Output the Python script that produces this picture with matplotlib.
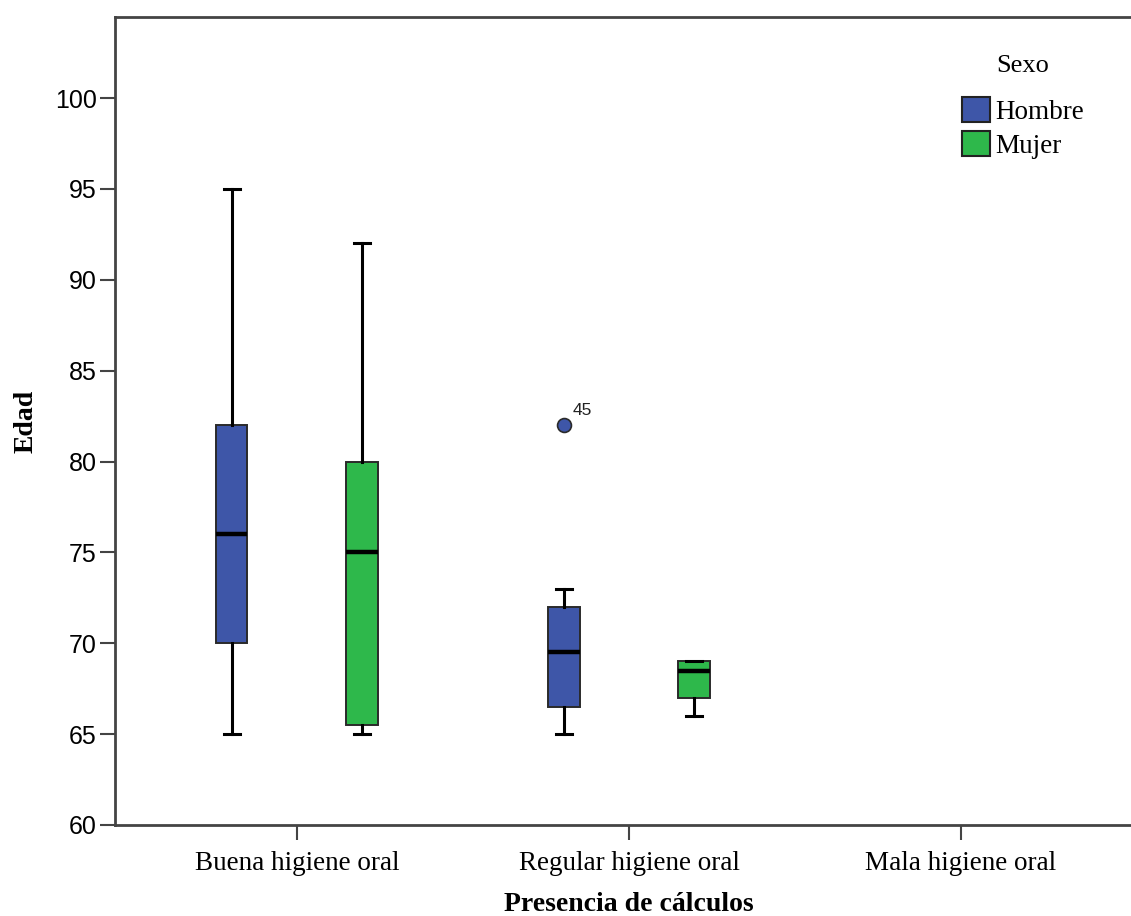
import matplotlib
matplotlib.use("Agg")
import matplotlib.pyplot as plt
from matplotlib.patches import Patch

categories = ["Buena higiene oral", "Regular higiene oral", "Mala higiene oral"]
groups = ["Hombre", "Mujer"]
colors = {"Hombre": "#3E56A8", "Mujer": "#2EB84B"}

# stats per (category, group): whislo, q1, med, q3, whishi
hombre_stats = [[65, 70, 76, 82, 95], [65, 66.5, 69.5, 72, 73]]
mujer_stats = [[65, 65.5, 75, 80, 92], [66, 67, 68.5, 69, 69]]
hombre_outliers = [[], [82]]
hombre_outlier_ids = [[], ["45"]]
mujer_outliers = [[], []]

fig = plt.figure(figsize=(11.31, 9.16), dpi=100)
ax = fig.add_axes([115/1131, 91/916, (1143-115)/1131, (825-17)/916])

offset = 0.196
width = 0.094

def mk(s, fl):
    return dict(whislo=s[0], q1=s[1], med=s[2], q3=s[3], whishi=s[4], fliers=fl)

for gi, (g, stats, outs) in enumerate([("Hombre", hombre_stats, hombre_outliers),
                                        ("Mujer", mujer_stats, mujer_outliers)]):
    pos = [i + (-offset if gi == 0 else offset) for i in range(len(stats))]
    bx = [mk(s, o) for s, o in zip(stats, outs)]
    ax.bxp(bx, positions=pos, widths=width, patch_artist=True, showfliers=True,
           boxprops=dict(facecolor=colors[g], edgecolor="#2a2a2a", linewidth=1.4),
           whiskerprops=dict(color="black", linewidth=2.2),
           capprops=dict(color="black", linewidth=2.2),
           capwidths=width*0.5,
           medianprops=dict(color="black", linewidth=3.2),
           flierprops=dict(marker="o", markerfacecolor=colors[g], markeredgecolor="#2a2a2a",
                           markersize=10, markeredgewidth=1.2))

# outlier id labels
for i, (vals, ids) in enumerate(zip(hombre_outliers, hombre_outlier_ids)):
    for v, t in zip(vals, ids):
        ax.annotate(t, (i - offset, v), xytext=(6, 7), textcoords="offset points",
                    fontsize=12.5, family="Liberation Sans", color="#222222")

ax.set_xlim(-0.548, 2.548)
ax.set_ylim(60, 104.46)
ax.set_xticks(range(len(categories)))
ax.set_xticklabels(categories, family="Liberation Serif", fontsize=19.5)
ax.set_yticks([60, 65, 70, 75, 80, 85, 90, 95, 100])
for lbl in ax.get_yticklabels():
    lbl.set_family("Liberation Sans")
    lbl.set_fontsize(18)
ax.tick_params(axis="both", direction="out", length=11, width=1.5, color="#444444")
ax.tick_params(axis="x", pad=8)
ax.tick_params(axis="y", pad=2)
for sp in ax.spines.values():
    sp.set_color("#444444")
    sp.set_linewidth(2)

ax.set_xlabel("Presencia de cálculos", family="Liberation Serif", fontsize=20,
              fontweight="bold", labelpad=11)
ax.set_ylabel("Edad", family="Liberation Serif", fontsize=20, fontweight="bold", labelpad=12)

handles = [Patch(facecolor=colors[g], edgecolor="#222222", linewidth=1.5, label=g) for g in groups]
leg = ax.legend(handles=handles, title="Sexo", loc="upper left",
                bbox_to_anchor=(836/1028, 0.966), frameon=False,
                prop=dict(family="Liberation Serif", size=19.5),
                handlelength=1.05, handleheight=1.05, handletextpad=0.2, labelspacing=0.25,
                borderaxespad=0)
leg.get_title().set_family("Liberation Serif")
leg.get_title().set_fontsize(19)
leg._legend_box.sep = 14

fig.savefig("out.png", dpi=100)
